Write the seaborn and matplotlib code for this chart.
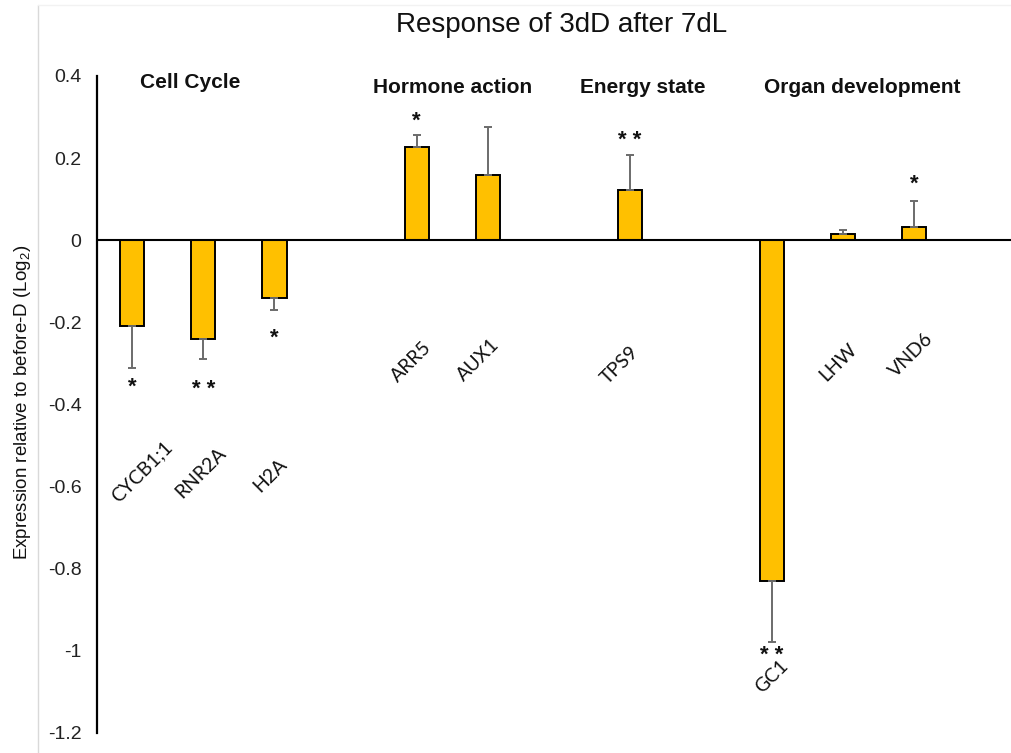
import numpy as np
import pandas as pd
import matplotlib
matplotlib.use("Agg")
import matplotlib.pyplot as plt
from matplotlib.lines import Line2D
import seaborn as sns

# ---- data ----
groups = ["Cell Cycle", "Hormone action", "Energy state", "Organ development"]
genes_per_group = [["CYCB1;1", "RNR2A", "H2A"], ["ARR5", "AUX1"], ["TPS9"], ["GC1", "LHW", "VND6"]]
values = [-0.21, -0.24, -0.14, 0.227, 0.16, 0.122, -0.83, 0.015, 0.033]
errors = [0.10, 0.05, 0.03, 0.03, 0.116, 0.086, 0.148, 0.01, 0.063]
stars = ["*", "**", "*", "*", "", "**", "**", "", "*"]
label_levels = [-0.564, -0.567, -0.572, -0.296, -0.292, -0.304, -1.063, -0.296, -0.279]
yticks = [0.4, 0.2, 0, -0.2, -0.4, -0.6, -0.8, -1, -1.2]
ytick_labels = ["0.4", "0.2", "0", "-0.2", "-0.4", "-0.6", "-0.8", "-1", "-1.2"]

# slot positions: one empty slot between groups
positions, gene_names, group_centers = [], [], []
slot = 0
for gi, genes in enumerate(genes_per_group):
    start = slot
    for g in genes:
        positions.append(slot)
        gene_names.append(g)
        slot += 1
    group_centers.append((start + slot - 1) / 2)
    slot += 1

df = pd.DataFrame({"pos": positions, "value": values, "gene": gene_names})

sns.set_theme(style="white")
plt.rcParams["font.family"] = ["Liberation Sans", "DejaVu Sans"]
plt.rcParams["mathtext.fontset"] = "custom"
plt.rcParams["mathtext.rm"] = "Liberation Sans"
plt.rcParams["mathtext.it"] = "Liberation Sans:italic"

fig = plt.figure(figsize=(10.11, 7.53), dpi=100)
ax = fig.add_axes([0.0957, 0.0266, 0.9043, 0.8725])

sns.barplot(data=df, x="pos", y="value", native_scale=True, width=0.34,
            color="#FFC000", saturation=1, edgecolor="black", linewidth=1.4,
            errorbar=None, ax=ax)

vals = np.array(values)
errs = np.array(errors)
lower = np.where(vals < 0, errs, 0)
upper = np.where(vals >= 0, errs, 0)
ax.errorbar(positions, vals, yerr=[lower, upper], fmt="none", ecolor="#6b6b6b",
            elinewidth=1.4, capsize=3, capthick=1.4, zorder=1)

ax.axhline(0, color="black", lw=1.5, zorder=3)
ax.set_xlim(-0.5, 12.36)
ax.set_ylim(-1.2, 0.4)
ax.set_yticks(yticks)
ax.set_yticklabels(ytick_labels, fontsize=14, color="#222222")
ax.tick_params(axis="y", length=0, pad=11)
ax.set_xticks([])
ax.set_xlabel("")
ax.set_ylabel("")
for s in ["top", "right", "bottom"]:
    ax.spines[s].set_visible(False)
ax.spines["left"].set_color("black")
ax.spines["left"].set_linewidth(1.6)

# significance stars
star_offsets = [-14, -22, -20, 10, 0, 10, -10, 0, 12]
for p, v, e, s, off in zip(positions, vals, errs, stars, star_offsets):
    if not s:
        continue
    end = v - e if v < 0 else v + e
    ax.annotate(" ".join(s) if len(s) > 1 else s, (p, end), xytext=(0, off),
                textcoords="offset points", ha="center", va="center",
                fontsize=16, fontweight="bold", color="#111111")

# gene labels
label_dx = [0.13, -0.04, -0.06, -0.08, -0.13, -0.14, 0.0, -0.07, -0.04]
for p, g, ly, dx in zip(positions, gene_names, label_levels, label_dx):
    ax.text(p + dx, ly, g, rotation=45, ha="center", va="center",
            fontsize=14, family=["Lato", "DejaVu Sans"], color="#111111")

# group headers
header_dx = [-0.18, 0.0, 0.18, 0.27]
header_y = [0.383, 0.373, 0.373, 0.373]
for name, c, dx, hy in zip(groups, group_centers, header_dx, header_y):
    ax.text(c + dx, hy, name, ha="center", va="center", fontsize=15,
            fontweight="bold", color="#111111")

fig.text(0.555, 0.967, "Response of 3dD after 7dL", ha="center", va="center",
         fontsize=20, color="#111111")
fig.text(0.022, 0.465, "Expression relative to before-D (Log$_2$)", rotation=90,
         ha="center", va="center", fontsize=13.5, color="#111111")

# faint frame lines
fig.add_artist(Line2D([0.0375, 0.0375], [0, 0.993], transform=fig.transFigure,
                      color="#d9d9d9", lw=1))
fig.add_artist(Line2D([0.0375, 1.0], [0.993, 0.993], transform=fig.transFigure,
                      color="#f2f2f2", lw=1))

fig.savefig("out.png", dpi=100)
